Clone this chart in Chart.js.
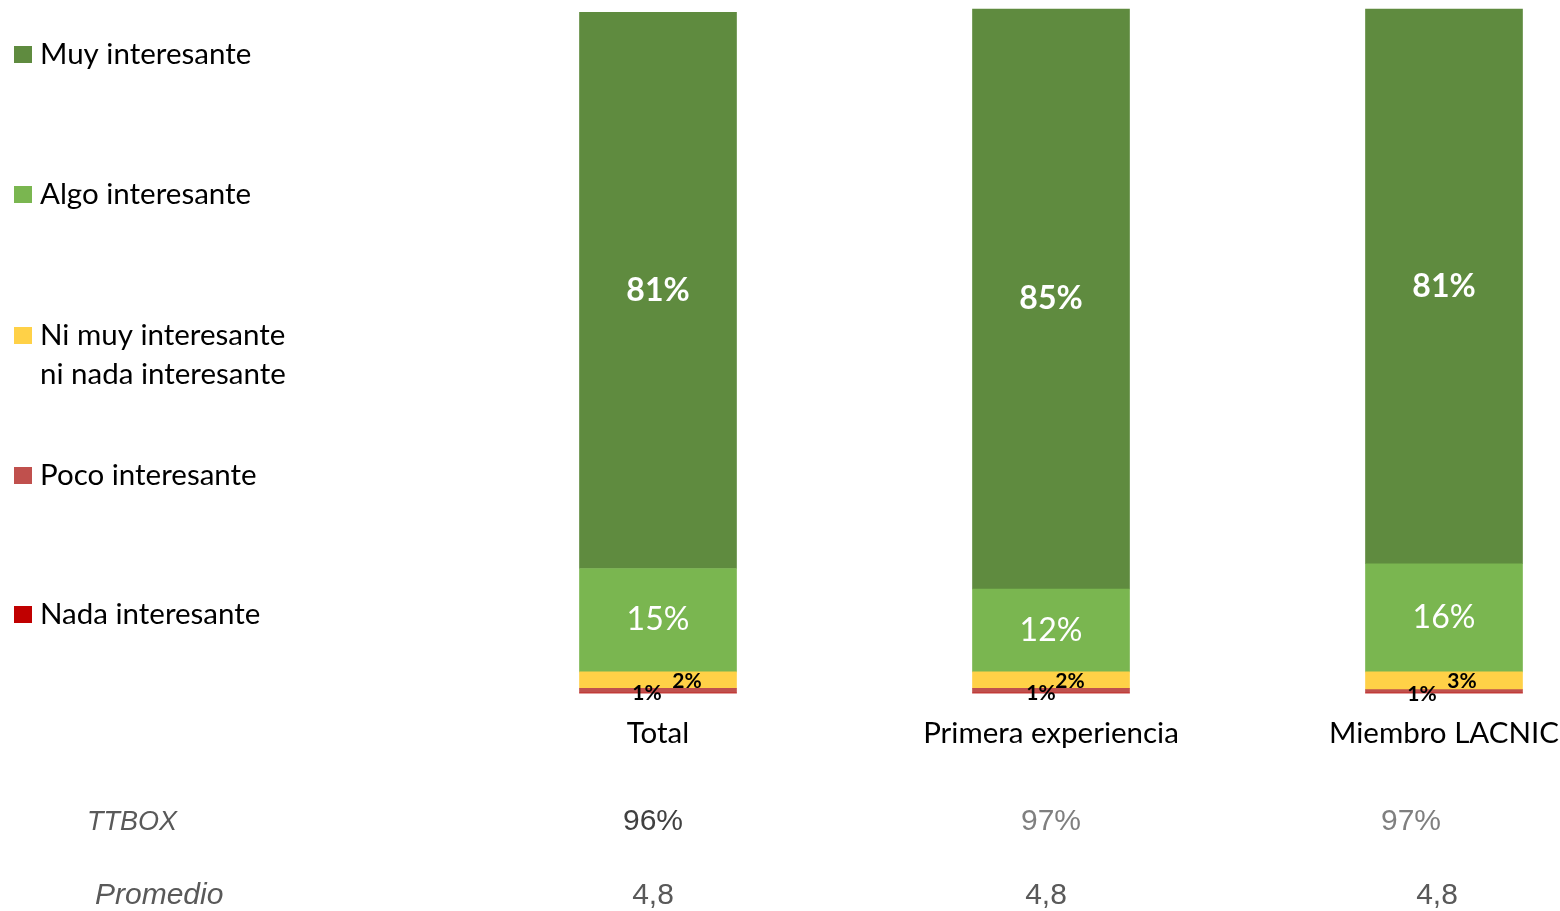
<!DOCTYPE html>
<html><head><meta charset="utf-8">
<script src="https://cdn.jsdelivr.net/npm/chart.js@4"></script>
<style>html,body{margin:0;padding:0;background:#fff;overflow:hidden}#wrap{width:1560px;height:911px;position:relative}</style>
</head><body><div id="wrap"><canvas id="c" width="1560" height="911"></canvas></div>
<script>
// ---- data ----
const categories = ['Total', 'Primera experiencia', 'Miembro LACNIC'];
const muyInteresante = [81.3, 84.8, 81.1];
const algoInteresante = [15.1, 12.1, 15.8];
const niMuyNiNada = [2.4, 2.4, 2.6];
const pocoInteresante = [0.7, 0.7, 0.5];
const nadaInteresante = [0, 0, 0];
const ttbox = ['96%', '97%', '97%'];
const promedio = ['4,8', '4,8', '4,8'];
const rowNames = ['TTBOX', 'Promedio'];

const FONT = 'Lato, "Noto Sans", sans-serif';
const ARIAL = '"Liberation Sans", Arial, sans-serif';

const datasets = [
  {label: 'Nada interesante', data: nadaInteresante, backgroundColor: '#C00000', lines: ['Nada interesante'], legendY: 614,
   lbl: {font: 'bold 21px ' + FONT, color: '#000', dx: [0,0,0], dy: 0}},
  {label: 'Poco interesante', data: pocoInteresante, backgroundColor: '#C0504D', lines: ['Poco interesante'], legendY: 475,
   lbl: {font: 'bold 21px ' + FONT, color: '#000', dx: [-11,-10,-22], dy: 3}},
  {label: 'Ni muy interesante ni nada interesante', data: niMuyNiNada, backgroundColor: '#FFD147', lines: ['Ni muy interesante', 'ni nada interesante'], legendY: 335,
   lbl: {font: 'bold 21px ' + FONT, color: '#000', dx: [29,19,18], dy: 1}},
  {label: 'Algo interesante', data: algoInteresante, backgroundColor: '#7AB650', lines: ['Algo interesante'], legendY: 194,
   lbl: {font: '32px ' + FONT, color: '#fff', dx: [0,0,0], dy: 0}},
  {label: 'Muy interesante', data: muyInteresante, backgroundColor: '#5F8B3F', lines: ['Muy interesante'], legendY: 54,
   lbl: {font: 'bold 32px ' + FONT, color: '#fff', dx: [0,0,0], dy: 0}}
];
datasets.forEach(d => { d.barThickness = 157; d.borderWidth = 0; d.clip = false; });

const barLabels = {
  id: 'barLabels',
  afterDatasetsDraw(chart) {
    const ctx = chart.ctx;
    ctx.save();
    ctx.textAlign = 'center';
    ctx.textBaseline = 'middle';
    chart.data.datasets.forEach((ds, di) => {
      const meta = chart.getDatasetMeta(di);
      meta.data.forEach((bar, i) => {
        const v = ds.data[i];
        if (!v) return;
        ctx.font = ds.lbl.font;
        ctx.fillStyle = ds.lbl.color;
        ctx.fillText(Math.round(v) + '%', bar.x + ds.lbl.dx[i], (bar.y + bar.base) / 2 + ds.lbl.dy);
      });
    });
    ctx.restore();
  }
};

const sideLegend = {
  id: 'sideLegend',
  afterDraw(chart) {
    const ctx = chart.ctx;
    ctx.save();
    ctx.textAlign = 'left';
    ctx.textBaseline = 'middle';
    ctx.font = '29.5px ' + FONT;
    chart.data.datasets.forEach(ds => {
      ctx.fillStyle = ds.backgroundColor;
      ctx.fillRect(14, ds.legendY - 8, 18, 17);
      ctx.fillStyle = '#000';
      ds.lines.forEach((t, k) => ctx.fillText(t, 40, ds.legendY + k * 39));
    });
    ctx.restore();
  }
};

const categoryAndRows = {
  id: 'categoryAndRows',
  afterDraw(chart) {
    const ctx = chart.ctx;
    const xs = chart.scales.x;
    ctx.save();
    ctx.textBaseline = 'middle';
    ctx.textAlign = 'center';
    ctx.fillStyle = '#000';
    ctx.font = '29.5px ' + FONT;
    categories.forEach((c, i) => ctx.fillText(c, xs.getPixelForValue(i), 733));

    ctx.textAlign = 'left';
    ctx.fillStyle = '#595959';
    ctx.font = 'italic 27px ' + ARIAL;
    ctx.fillText(rowNames[0], 87, 822);
    ctx.font = 'italic 30px ' + ARIAL;
    ctx.fillText(rowNames[1], 95, 896);
    ctx.textAlign = 'center';
    ctx.font = '30px ' + ARIAL;
    const ttDx = [-5, 0, -33], prDx = [-5, -5, -7];
    const ttCol = ['#404040', '#7F7F7F', '#7F7F7F'];
    categories.forEach((c, i) => {
      const x = xs.getPixelForValue(i);
      ctx.fillStyle = ttCol[i];
      ctx.fillText(ttbox[i], x + ttDx[i], 822);
      ctx.fillStyle = '#595959';
      ctx.fillText(promedio[i], x + prDx[i], 896);
    });
    ctx.restore();
  }
};

new Chart(document.getElementById('c'), {
  type: 'bar',
  data: {labels: categories, datasets: datasets},
  options: {
    responsive: false,
    animation: false,
    layout: {padding: {left: 658, right: 116, top: 9, bottom: 218}},
    plugins: {legend: {display: false}, tooltip: {enabled: false}},
    scales: {
      x: {stacked: true, offset: false, display: false},
      y: {stacked: true, min: 0, max: 100, display: false}
    }
  },
  plugins: [barLabels, sideLegend, categoryAndRows]
});
</script>
</body></html>
